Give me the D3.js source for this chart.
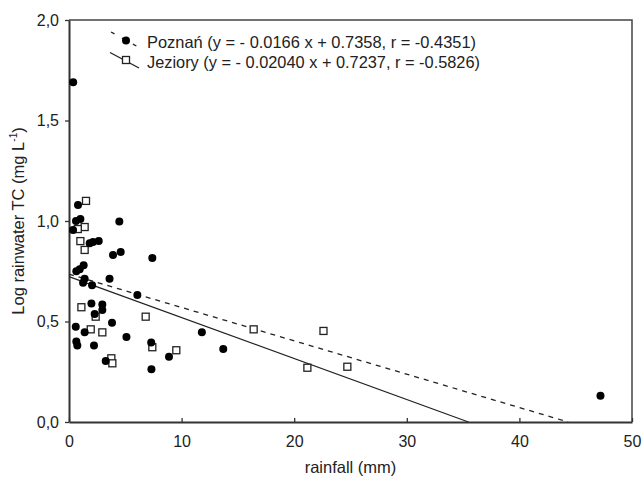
<!DOCTYPE html>
<html>
<head>
<meta charset="utf-8">
<script src="https://cdn.jsdelivr.net/npm/d3@7"></script>
<style>
  html, body { margin: 0; padding: 0; background: #fff; }
  svg { display: block; font-family: "Liberation Sans", Arial, sans-serif; }
</style>
</head>
<body>
<svg id="chart" width="644" height="479"></svg>
<script>
// Poznań: [rainfall mm, log TC]
const poznan = [
    [0.37, 1.69], [0.80, 1.08], [0.62, 1.00], [1.01, 1.01], [0.36, 0.955],
    [4.47, 0.997], [1.84, 0.889], [2.13, 0.896], [2.64, 0.90], [3.91, 0.831],
    [4.59, 0.846], [7.40, 0.816], [1.30, 0.78], [0.95, 0.76], [0.65, 0.75],
    [1.39, 0.713], [1.25, 0.693], [2.05, 0.68], [3.60, 0.713], [6.07, 0.632],
    [1.99, 0.59], [2.96, 0.585], [2.96, 0.557], [2.28, 0.537], [0.60, 0.474],
    [3.82, 0.494], [1.39, 0.446], [5.10, 0.423], [0.65, 0.40], [0.74, 0.38],
    [2.22, 0.38], [7.30, 0.396], [8.88, 0.325], [3.26, 0.303], [7.32, 0.262],
    [11.8, 0.446], [13.7, 0.363], [47.2, 0.131]
];
// Jeziory
const jeziory = [
    [1.51, 1.10], [1.39, 0.97], [0.78, 0.96], [1.01, 0.90], [1.39, 0.856],
    [1.10, 0.571], [2.37, 0.524], [6.81, 0.524], [1.93, 0.461], [2.96, 0.446],
    [7.40, 0.372], [9.53, 0.357], [3.76, 0.317], [3.85, 0.292], [16.4, 0.461],
    [22.6, 0.453], [21.17, 0.27], [24.72, 0.275]
];
// regression coefficients [slope, intercept]
const fitPoznan = [-0.0166, 0.7358];
const fitJeziory = [-0.02040, 0.7237];

const xTicks = [0, 10, 20, 30, 40, 50];
const yTicks = [0, 0.5, 1.0, 1.5, 2.0];
const legendLabels = [
    "Poznań (y = - 0.0166 x + 0.7358, r = -0.4351)",
    "Jeziory (y = - 0.02040 x + 0.7237, r = -0.5826)"
];

const margin = {top: 20, right: 12, bottom: 57, left: 69};
const width = 644 - margin.left - margin.right;
const height = 479 - margin.top - margin.bottom;
const ink = "#222";

const svg = d3.select("#chart");
const g = svg.append("g").attr("transform", `translate(${margin.left},${margin.top})`);

const x = d3.scaleLinear().domain([0, 50]).range([0, width]);
const y = d3.scaleLinear().domain([0, 2]).range([height, 0]);

// frame (top and right)
g.append("path")
    .attr("d", `M0,0H${width}V${height}`)
    .attr("fill", "none")
    .attr("stroke", "#444")
    .attr("stroke-width", 1.5);

const fmt = d => d3.format(".1f")(d).replace(".", ",");

const xAxis = g.append("g")
    .attr("transform", `translate(0,${height})`)
    .call(d3.axisBottom(x).tickValues(xTicks).tickFormat(d => d).tickSizeInner(-4).tickSizeOuter(0).tickPadding(14));
const yAxis = g.append("g")
    .call(d3.axisLeft(y).tickValues(yTicks).tickFormat(fmt).tickSizeInner(4).tickSizeOuter(0).tickPadding(6));

[xAxis, yAxis].forEach(a => {
    a.select(".domain").attr("stroke", "#333").attr("stroke-width", 2);
    a.selectAll(".tick line").attr("stroke", "#333").attr("stroke-width", 1.3);
    a.selectAll(".tick text")
        .attr("fill", ink)
        .attr("font-size", 16)
        .attr("font-family", "Liberation Sans, Arial, sans-serif");
});

// regression lines
function fitLine(fit) {
    const x0 = -fit[1] / fit[0];
    return [[0, fit[1]], [x0, 0]];
}
const line = d3.line().x(d => x(d[0])).y(d => y(d[1]));

g.append("path")
    .datum(fitLine(fitPoznan))
    .attr("d", line)
    .attr("fill", "none")
    .attr("stroke", ink)
    .attr("stroke-width", 1.3)
    .attr("stroke-dasharray", "5,5");

g.append("path")
    .datum(fitLine(fitJeziory))
    .attr("d", line)
    .attr("fill", "none")
    .attr("stroke", ink)
    .attr("stroke-width", 1.3);

// points
g.append("g")
    .selectAll("rect")
    .data(jeziory)
    .enter()
    .append("rect")
    .attr("x", d => x(d[0]) - 3.5)
    .attr("y", d => y(d[1]) - 3.5)
    .attr("width", 7)
    .attr("height", 7)
    .attr("fill", "#fff")
    .attr("stroke", ink)
    .attr("stroke-width", 1.3);

g.append("g")
    .selectAll("circle")
    .data(poznan)
    .enter()
    .append("circle")
    .attr("cx", d => x(d[0]))
    .attr("cy", d => y(d[1]))
    .attr("r", 4)
    .attr("fill", "#000");

// legend
const leg = svg.append("g");
const p0 = leg.append("g");
p0.append("line")
    .attr("x1", 111).attr("y1", 32).attr("x2", 139).attr("y2", 47.5)
    .attr("stroke", ink).attr("stroke-width", 1.3).attr("stroke-dasharray", "4,8.5");
p0.append("circle").attr("cx", 126).attr("cy", 40.5).attr("r", 4).attr("fill", "#000");

const p1 = leg.append("g");
p1.append("line")
    .attr("x1", 110).attr("y1", 52.5).attr("x2", 139).attr("y2", 68)
    .attr("stroke", ink).attr("stroke-width", 1.3);
p1.append("rect")
    .attr("x", 122.5).attr("y", 56.5).attr("width", 7).attr("height", 7)
    .attr("fill", "#fff").attr("stroke", ink).attr("stroke-width", 1.3);

leg.selectAll("text.lbl")
    .data(legendLabels)
    .enter()
    .append("text")
    .attr("class", "lbl")
    .attr("x", 147)
    .attr("y", (d, i) => 47.5 + i * 20)
    .attr("font-size", 16.5)
    .attr("fill", ink)
    .attr("textLength", (d, i) => i === 0 ? 329 : 333)
    .attr("lengthAdjust", "spacingAndGlyphs")
    .text(d => d);

// axis titles
svg.append("text")
    .attr("x", margin.left + width / 2)
    .attr("y", 473)
    .attr("text-anchor", "middle")
    .attr("font-size", 16.5)
    .attr("fill", ink)
    .text("rainfall (mm)");

const yt = svg.append("text")
    .attr("transform", `translate(24,${margin.top + height / 2}) rotate(-90)`)
    .attr("text-anchor", "middle")
    .attr("font-size", 16.5)
    .attr("fill", ink);
yt.append("tspan").text("Log rainwater TC (mg L");
yt.append("tspan").attr("font-size", 10).attr("dy", -7).text("-1");
yt.append("tspan").attr("dy", 7).text(")");
</script>
</body>
</html>
